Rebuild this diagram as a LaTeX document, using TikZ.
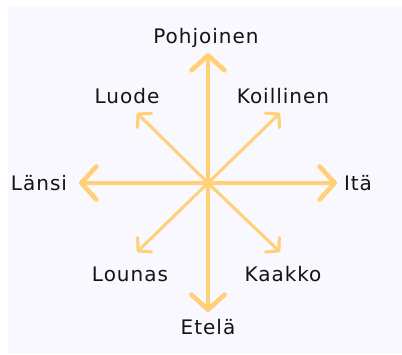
\documentclass[tikz,border=0pt]{standalone}
\usepackage{fontspec}
\setmainfont{DejaVu Sans}[LetterSpace=5]
\usepackage{xcolor}
\usepackage{tikz}
\usetikzlibrary{arrows.meta}
\definecolor{panelbg}{RGB}{248,248,254}
\definecolor{arrowcol}{RGB}{255,208,118}
\definecolor{labelcol}{RGB}{20,20,20}
\tikzset{
  dirlabel/.style={anchor=base, inner sep=0pt, text=labelcol,
    font=\fontsize{20}{20}\selectfont},
  mainarrow/.style={-{Straight Barb[length=15pt, width=33pt, round]},
    line width=4.6pt, draw=arrowcol, line cap=round},
  diagarrow/.style={-{Straight Barb[length=9pt, width=20pt, round]},
    line width=3pt, draw=arrowcol, line cap=round}
}

\begin{document}
\begin{tikzpicture}[x=1pt, y=1pt]
  \useasboundingbox (0,0) rectangle (402,354);
  \fill[panelbg] (8,1) rectangle (402,348);

  \coordinate (centre) at (208,171);
  \coordinate (tipN) at (208,301);
  \coordinate (tipS) at (208,42);
  \coordinate (tipW) at (79,171);
  \coordinate (tipE) at (337,171);
  \coordinate (tipNW) at (137,241);
  \coordinate (tipNE) at (280,241);
  \coordinate (tipSW) at (137,102);
  \coordinate (tipSE) at (280,102);

  \node[dirlabel] (pohjoinen) at (206,310) {Pohjoinen};
  \node[dirlabel] (luode) at (127,250) {Luode};
  \node[dirlabel] (koillinen) at (283,250) {Koillinen};
  \node[dirlabel] (lansi) at (39,163) {Länsi};
  \node[dirlabel] (ita) at (358,163) {Itä};
  \node[dirlabel] (lounas) at (130,73) {Lounas};
  \node[dirlabel] (kaakko) at (283,73) {Kaakko};
  \node[dirlabel] (etela) at (208,20) {Etelä};

  \draw[diagarrow] (centre) -- (tipNW);
  \draw[diagarrow] (centre) -- (tipNE);
  \draw[diagarrow] (centre) -- (tipSW);
  \draw[diagarrow] (centre) -- (tipSE);
  \draw[mainarrow] (centre) -- (tipN);
  \draw[mainarrow] (centre) -- (tipS);
  \draw[mainarrow] (centre) -- (tipW);
  \draw[mainarrow] (centre) -- (tipE);
\end{tikzpicture}
\end{document}
